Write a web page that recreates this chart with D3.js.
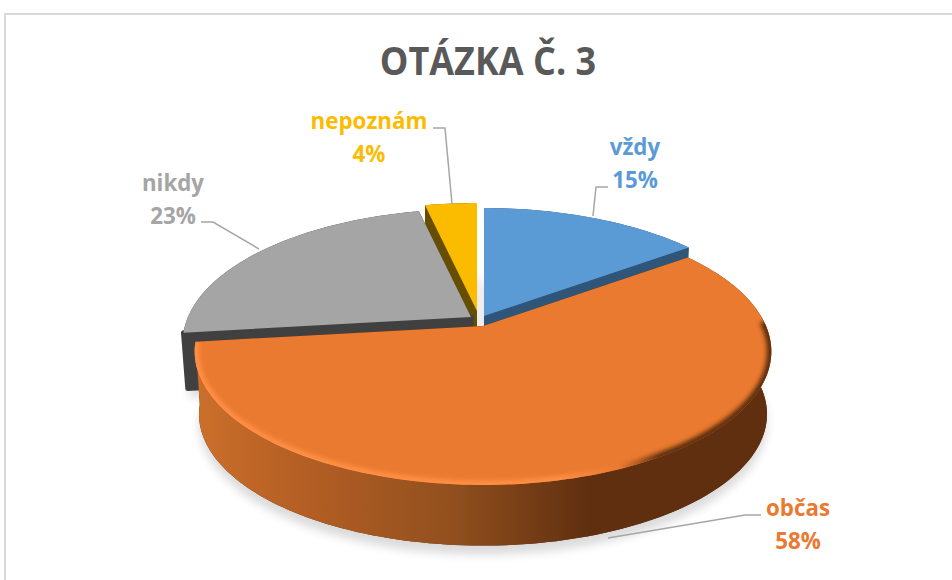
<!DOCTYPE html>
<html>
<head>
<meta charset="utf-8">
<script src="https://d3js.org/d3.v7.min.js"></script>
<style>
html,body{margin:0;padding:0;background:#fff}
svg{display:block}
text{font-family:"Open Sans",sans-serif;font-weight:700}
</style>
</head>
<body>
<svg id="chart" width="952" height="580"></svg>
<script>
const title = "OTÁZKA Č. 3"
const categories = ["vždy","občas","nikdy","nepoznám"]
// the printed labels are rounded
const values = [14.9,58.2,23.4,3.5]
const percentLabels = ["15%","58%","23%","4%"]
const colors = ["#5b9bd5","#ea7a2f","#a5a5a5","#fbbc00"]
const wallColors = ["#2f5578","#5f2f10","#404040","#664d00"]

// where each exploded slice has its tip, and where its label and leader go
const tips = [[484,316],[483,326],[471,317],[477,311]]
const depths = [63,63,56,63]
const labelPos = [[635,155],[798,516],[173,191],[369,129]]
const leaders = [
    [[608,187],[596,187],[593,216]],
    [[761,515],[745,515],[608,538]],
    [[201,222],[213,222],[259,249]],
    [[433,128],[445,128],[452,204]]
]

const svg = d3.select("#chart")
const defs = svg.append("defs")
const bottomScale = 0.985
const squeeze = 0.93

// perspective of the tilted disc: the far side is shorter than the near side
const k = 0.191, A = 283, B = 128.6
let project = (angle, d) => {
    let u = Math.sin(angle), v = -Math.cos(angle)
    // v is negative on the far side of the disc
    let w = 1 - k * v
    return [A * u / w, B * v / w]
}
let rim = (d, lower) => {
    let n = Math.ceil((d.endAngle - d.startAngle) * 40)
    let s = lower ? bottomScale : 1
    let dy = lower ? d.depth : 0
    return d3.range(n + 1).map(i => {
        let p = project(d.startAngle + (d.endAngle - d.startAngle) * i / n)
        return [d.tip[0] + s * p[0], d.tip[1] + s * p[1] + dy]
    })
}
let line = d3.line()

let pie = d3.pie().sort(null)
let arcs = pie(values).map((a,i) => ({...a, i:i, tip:tips[i], depth:depths[i]}))
let lowTip = d => [d.tip[0], d.tip[1] + d.depth]

// filters and gradients
defs.append("filter").attr("id","soft")
    .attr("filterUnits","userSpaceOnUse").attr("x",100).attr("y",150).attr("width",760).attr("height",430)
    .append("feGaussianBlur").attr("stdDeviation",5)
defs.append("filter").attr("id","bevel")
    .attr("filterUnits","userSpaceOnUse").attr("x",100).attr("y",150).attr("width",760).attr("height",430)
    .append("feGaussianBlur").attr("stdDeviation",2)

let wallScale = d3.scaleLinear().domain([196,771]).range([0,100])
let wallGrad = defs.append("linearGradient").attr("id","wallGrad")
    .attr("gradientUnits","userSpaceOnUse").attr("x1",196).attr("x2",771).attr("y1",0).attr("y2",0)
;[[196,"#cb6f2b"],[300,"#b55f24"],[450,"#92501e"],[590,"#5f2f10"],[771,"#5f2f10"]].forEach(s => {
    wallGrad.append("stop").attr("offset",wallScale(s[0]) + "%").attr("stop-color",s[1])
})
let rimGrad = defs.append("linearGradient").attr("id","rimGrad")
    .attr("gradientUnits","userSpaceOnUse").attr("x1",196).attr("x2",771).attr("y1",0).attr("y2",0)
;[[196,"#ff8f45"],[560,"#ff8f45"],[620,"#ea7a2f"],[660,"#5f2f10"],[771,"#5f2f10"]].forEach(s => {
    rimGrad.append("stop").attr("offset",wallScale(s[0]) + "%").attr("stop-color",s[1])
})

// frame
svg.append("path").attr("d","M5,580V14H952").attr("fill","none").attr("stroke","#d9d9d9").attr("stroke-width",2)

// title
let condensed = (sel, factor) => sel.each(function() {
    this.setAttribute("textLength", this.getComputedTextLength() * factor)
    this.setAttribute("lengthAdjust","spacingAndGlyphs")
})
svg.append("text").attr("x",488).attr("y",75).attr("text-anchor","middle")
    .attr("font-size",40).attr("fill","#595959").text(title)
    .call(condensed,0.9)

// soft shadow under the pie
svg.append("g").attr("filter","url(#soft)").attr("opacity",0.14)
    .selectAll("path").data(arcs).join("path")
    .attr("d",d => line([lowTip(d), ...rim(d, true)]) + "Z")
    .attr("transform","translate(0,9)")
    .attr("fill","#000")

// far slices first, orange last since it sits in front of all of them
let order = [0,3,2,1]
order.forEach(i => {
    let d = arcs[i]
    let g = svg.append("g").attr("class","slice")
    let top = rim(d, false)
    let low = rim(d, true)
    let lt = lowTip(d)
    // bottom face and the two cut faces
    g.append("path").attr("d",line([lt, ...low]) + "Z").attr("fill",wallColors[i])
    g.append("path").attr("d",line([d.tip, top[0], low[0], lt]) + "Z").attr("fill",wallColors[i])
        // the grey cut face has a rounded corner at the left
        .attr("stroke", i == 2 ? wallColors[i] : "none").attr("stroke-width",5).attr("stroke-linejoin","round")
    g.append("path").attr("d",line([d.tip, top[top.length-1], low[low.length-1], lt]) + "Z").attr("fill",wallColors[i])
    // outer wall
    g.append("path").attr("d",line([...top, ...low.slice().reverse()]) + "Z")
        .attr("fill", i == 1 ? "url(#wallGrad)" : wallColors[i])
    // top face
    g.append("path").attr("d",line([d.tip, ...top]) + "Z").attr("fill",colors[i])
    if (i == 1) {
        defs.append("clipPath").attr("id","orangeTop")
            .append("path").attr("d",line([d.tip, ...top]) + "Z")
        g.append("g").attr("clip-path","url(#orangeTop)")
            .append("path").attr("d",line(top.slice(24))).attr("fill","none")
            .attr("stroke","url(#rimGrad)").attr("stroke-width",9)
            .attr("filter","url(#bevel)")
    }
})

// leader lines
svg.append("g").selectAll("path").data(leaders).join("path")
    .attr("d",line).attr("fill","none").attr("stroke","#a6a6a6").attr("stroke-width",1.5)

// labels
let labels = svg.append("g").selectAll("g").data(categories).join("g")
labels.append("text").attr("x",(d,i) => labelPos[i][0]).attr("y",(d,i) => labelPos[i][1])
    .attr("text-anchor","middle").attr("font-size",24).attr("fill",(d,i) => colors[i])
    .text(d => d).call(condensed,squeeze)
labels.append("text").attr("x",(d,i) => labelPos[i][0]).attr("y",(d,i) => labelPos[i][1] + 33)
    .attr("text-anchor","middle").attr("font-size",24).attr("fill",(d,i) => colors[i])
    .text((d,i) => percentLabels[i]).call(condensed,squeeze)
</script>
</body>
</html>
